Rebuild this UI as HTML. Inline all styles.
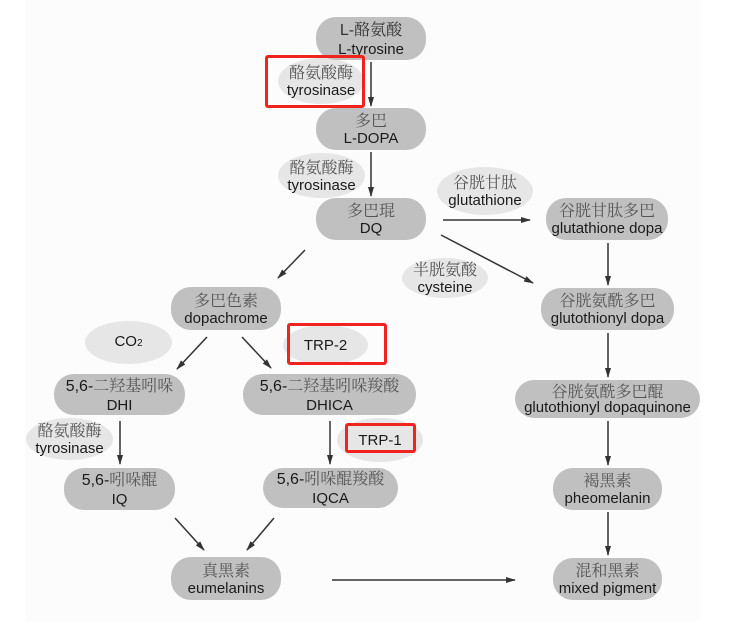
<!DOCTYPE html>
<html><head><meta charset="utf-8"><style>
body{margin:0;width:752px;height:627px;background:#fff;position:relative;overflow:hidden;font-family:"Liberation Sans","Noto Serif CJK SC",sans-serif}
.bg{position:absolute;left:25px;top:0;width:675px;height:622px;background:#fcfcfc}
.n,.e{position:absolute;display:flex;flex-direction:column;align-items:center;justify-content:center;text-align:center;line-height:19px;font-size:15px;color:#1a1a1a;white-space:nowrap}
.n{background:#c0c0c0;border-radius:20px}
.e{background:#e6e6e6;border-radius:50%}
.c{color:#555;font-family:"Noto Serif CJK SC","Liberation Serif",serif;font-size:16px}
.r{position:absolute;border:3px solid #f0231f;border-radius:3px;box-sizing:border-box}
svg{position:absolute;left:0;top:0}
</style></head><body>
<div class="bg"></div>
<div class="e" style="left:278px;top:58px;width:86px;height:46px"><span class="c">酪氨酸酶</span><span>tyrosinase</span></div>
<div class="e" style="left:278px;top:153px;width:87px;height:45px"><span class="c">酪氨酸酶</span><span>tyrosinase</span></div>
<div class="e" style="left:437px;top:167px;width:96px;height:48px"><span class="c">谷胱甘肽</span><span>glutathione</span></div>
<div class="e" style="left:402px;top:258px;width:86px;height:40px"><span class="c">半胱氨酸</span><span>cysteine</span></div>
<div class="e" style="left:85px;top:321px;width:87px;height:43px"><span>CO<small style="font-size:10px">2</small></span></div>
<div class="e" style="left:283px;top:325px;width:85px;height:40px"><span>TRP-2</span></div>
<div class="e" style="left:26px;top:418px;width:87px;height:42px"><span class="c">酪氨酸酶</span><span>tyrosinase</span></div>
<div class="e" style="left:337px;top:418px;width:86px;height:44px"><span>TRP-1</span></div>

<div class="n" style="left:316px;top:17px;width:110px;height:43px"><span class="c" style="color:#333"><span style="font-family:'Liberation Sans'">L-</span>酪氨酸</span><span>L-tyrosine</span></div>
<div class="n" style="left:316px;top:108px;width:110px;height:42px"><span class="c">多巴</span><span>L-DOPA</span></div>
<div class="n" style="left:316px;top:198px;width:110px;height:42px"><span class="c">多巴琨</span><span>DQ</span></div>
<div class="n" style="left:546px;top:198px;width:122px;height:42px"><span class="c">谷胱甘肽多巴</span><span>glutathione dopa</span></div>
<div class="n" style="left:541px;top:288px;width:133px;height:42px"><span class="c">谷胱氨酰多巴</span><span>glutothionyl dopa</span></div>
<div class="n" style="left:515px;top:380px;width:185px;height:38px;line-height:17px"><span class="c">谷胱氨酰多巴醌</span><span>glutothionyl dopaquinone</span></div>
<div class="n" style="left:553px;top:468px;width:109px;height:42px"><span class="c">褐黑素</span><span>pheomelanin</span></div>
<div class="n" style="left:553px;top:558px;width:109px;height:42px"><span class="c">混和黑素</span><span>mixed pigment</span></div>
<div class="n" style="left:171px;top:287px;width:110px;height:43px"><span class="c">多巴色素</span><span>dopachrome</span></div>
<div class="n" style="left:54px;top:374px;width:131px;height:41px"><span class="c"><span style="font-family:'Liberation Sans';color:#1a1a1a">5,6-</span>二羟基吲哚</span><span>DHI</span></div>
<div class="n" style="left:243px;top:374px;width:173px;height:41px"><span class="c"><span style="font-family:'Liberation Sans';color:#1a1a1a">5,6-</span>二羟基吲哚羧酸</span><span>DHICA</span></div>
<div class="n" style="left:64px;top:468px;width:111px;height:42px"><span class="c"><span style="font-family:'Liberation Sans';color:#1a1a1a">5,6-</span>吲哚醌</span><span>IQ</span></div>
<div class="n" style="left:263px;top:468px;width:135px;height:40px"><span class="c"><span style="font-family:'Liberation Sans';color:#1a1a1a">5,6-</span>吲哚醌羧酸</span><span>IQCA</span></div>
<div class="n" style="left:171px;top:557px;width:110px;height:43px"><span class="c">真黑素</span><span>eumelanins</span></div>

<div class="r" style="left:265px;top:55px;width:100px;height:53px"></div>
<div class="r" style="left:287px;top:323px;width:100px;height:42px"></div>
<div class="r" style="left:345px;top:423px;width:71px;height:30px"></div>

<svg width="752" height="627"><defs><marker id="a" markerWidth="10" markerHeight="8" refX="9" refY="4" orient="auto" markerUnits="userSpaceOnUse"><path d="M0,1 L10,4 L0,7 Z" fill="#333"/></marker></defs>
<g stroke="#333" stroke-width="1.5" marker-end="url(#a)">
<line x1="371" y1="62" x2="371" y2="106"/>
<line x1="371" y1="152" x2="371" y2="196"/>
<line x1="443" y1="220" x2="530" y2="220"/>
<line x1="441" y1="235" x2="533" y2="283"/>
<line x1="608" y1="243" x2="608" y2="285"/>
<line x1="608" y1="333" x2="608" y2="377"/>
<line x1="608" y1="421" x2="608" y2="465"/>
<line x1="608" y1="512" x2="608" y2="555"/>
<line x1="305" y1="250" x2="278" y2="278"/>
<line x1="207" y1="337" x2="177" y2="369"/>
<line x1="242" y1="337" x2="271" y2="368"/>
<line x1="120" y1="421" x2="120" y2="464"/>
<line x1="330" y1="421" x2="330" y2="464"/>
<line x1="175" y1="518" x2="204" y2="550"/>
<line x1="274" y1="518" x2="247" y2="550"/>
<line x1="332" y1="580" x2="515" y2="580"/>
</g></svg>
</body></html>
